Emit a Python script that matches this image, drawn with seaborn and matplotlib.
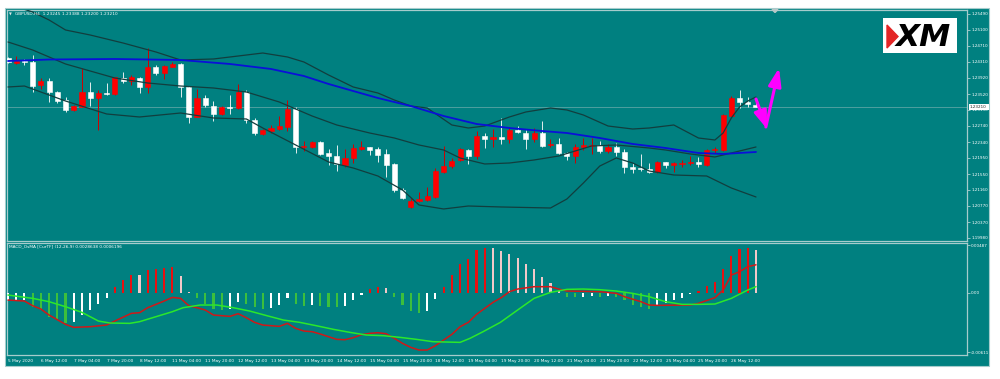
import matplotlib
matplotlib.use("Agg")
import matplotlib.pyplot as plt
from matplotlib.patches import Rectangle, Polygon
import numpy as np
import seaborn as sns

# ---------------- data (GBPUSD H4 candles) ----------------
opens = [1.24400,1.24292,1.24341,1.24316,1.23736,1.23849,1.23563,1.23374,1.23128,1.23209,
 1.23571,1.23431,1.23546,1.23522,1.23923,1.23841,1.23923,1.23689,1.24193,1.24031,
 1.24193,1.24252,1.23701,1.22963,1.23416,1.23234,1.23030,1.23194,1.23170,1.23578,
 1.22882,1.22538,1.22611,1.22653,1.22717,1.23153,1.22225,1.22210,1.22333,1.22063,
 1.21996,1.21775,1.21940,1.22169,1.22210,1.22161,1.22038,1.21792,1.21160,1.20734,
 1.20897,1.20914,1.20995,1.21595,1.21750,1.21898,1.22144,1.21996,1.22488,1.22407,
 1.22456,1.22415,1.22636,1.22570,1.22407,1.22555,1.22260,1.22292,1.22063,1.21996,
 1.22225,1.22242,1.22267,1.22119,1.22225,1.22087,1.21733,1.21694,1.21677,1.21610,
 1.21841,1.21775,1.21800,1.21832,1.21841,1.21775,1.22144,1.22144,1.22988,1.23431,
 1.23332,1.23245]
highs = [1.24420,1.24456,1.24375,1.24481,1.23908,1.23908,1.23603,1.23455,1.23251,1.24154,
 1.23809,1.23620,1.23785,1.23947,1.24070,1.23989,1.23947,1.24646,1.24235,1.24235,
 1.24316,1.24277,1.23726,1.23637,1.23497,1.23357,1.23226,1.23497,1.23760,1.23620,
 1.22924,1.22653,1.22759,1.22988,1.23374,1.23194,1.22373,1.22373,1.22365,1.22161,
 1.22267,1.22169,1.22284,1.22373,1.22225,1.22225,1.22161,1.21817,1.21202,1.20956,
 1.21118,1.21226,1.21694,1.22242,1.21940,1.22201,1.22169,1.22619,1.22570,1.22661,
 1.22939,1.22702,1.22734,1.22636,1.22678,1.22865,1.22407,1.22432,1.22102,1.22292,
 1.22432,1.22432,1.22373,1.22284,1.22309,1.22169,1.21817,1.22046,1.21817,1.21873,
 1.21856,1.21856,1.21898,1.21996,1.21964,1.22161,1.22225,1.23030,1.23480,1.23620,
 1.23455,1.23388]
lows = [1.24284,1.24260,1.24235,1.23578,1.23637,1.23332,1.23293,1.23071,1.23103,1.23194,
 1.23234,1.22636,1.23497,1.23497,1.23800,1.23743,1.23554,1.23539,1.23989,1.23883,
 1.24178,1.23455,1.22801,1.22948,1.23194,1.22857,1.23005,1.23022,1.23153,1.22801,
 1.22513,1.22513,1.22555,1.22636,1.22611,1.22078,1.22119,1.22186,1.22021,1.21775,
 1.21635,1.21733,1.21832,1.22144,1.22021,1.21856,1.21487,1.21118,1.20939,1.20710,
 1.20872,1.20897,1.20956,1.21571,1.21694,1.21873,1.21800,1.21915,1.22186,1.22225,
 1.22292,1.22324,1.22555,1.22161,1.22348,1.22225,1.22225,1.22038,1.21898,1.21817,
 1.22144,1.22038,1.22078,1.22078,1.22004,1.21586,1.21586,1.21635,1.21586,1.21571,
 1.21694,1.21610,1.21733,1.21775,1.21733,1.21758,1.22063,1.22127,1.22963,1.23170,
 1.23209,1.23200]
closes = [1.24301,1.24341,1.24316,1.23726,1.23849,1.23563,1.23349,1.23128,1.23226,1.23571,
 1.23431,1.23539,1.23514,1.23932,1.23841,1.23932,1.23689,1.24193,1.24031,1.24218,
 1.24252,1.23701,1.22963,1.23416,1.23251,1.23030,1.23194,1.23170,1.23578,1.22882,
 1.22555,1.22636,1.22693,1.22734,1.23153,1.22225,1.22250,1.22333,1.22046,1.21996,
 1.21792,1.21955,1.22201,1.22210,1.22144,1.22021,1.21775,1.21160,1.20971,1.20897,
 1.20939,1.21020,1.21627,1.21758,1.21881,1.22161,1.21996,1.22488,1.22407,1.22456,
 1.22415,1.22636,1.22579,1.22407,1.22555,1.22250,1.22292,1.22063,1.21996,1.22210,
 1.22267,1.22267,1.22119,1.22225,1.22087,1.21733,1.21677,1.21669,1.21610,1.21841,
 1.21775,1.21817,1.21832,1.21856,1.21800,1.22144,1.22169,1.23005,1.23431,1.23317,
 1.23276,1.23210]

# Bollinger bands and moving average (bar index, price)
upper_idx = [0,3,5,7,10,14,18,21,25,28,31,34,36,39,42,45,47,49,51,54,56,58,61,63,66,68,70,73,76,78,81,84,86,87,88,89,90,91]
upper_val = [1.25736,1.25539,1.25342,1.25096,1.24973,1.24776,1.24555,1.24358,1.24383,1.24456,
             1.24530,1.24432,1.24309,1.23989,1.23694,1.23546,1.23374,1.23226,1.23177,1.22759,
             1.22685,1.22734,1.22956,1.23079,1.23177,1.23128,1.23005,1.22734,1.22660,1.22685,
             1.22759,1.22439,1.22390,1.22562,1.22931,1.23202,1.23349,1.23448]
mid_idx = [0,3,7,13,17,21,25,29,33,37,40,44,47,50,53,55,58,61,64,67,69,71,74,78,80,83,86,88,91]
mid_val = [1.24801,1.24604,1.24260,1.23915,1.23792,1.23718,1.23669,1.23571,1.23325,1.22980,
           1.22759,1.22562,1.22439,1.22267,1.22144,1.21947,1.21800,1.21824,1.21898,1.21996,
           1.22119,1.22242,1.22267,1.22193,1.22144,1.22046,1.21972,1.22070,1.22218]
lower_idx = [0,2,7,12,16,21,25,29,31,35,39,42,45,48,50,53,56,60,66,68,70,72,74,76,78,81,85,88,91]
lower_val = [1.23694,1.23718,1.23349,1.23030,1.22956,1.23054,1.22931,1.22907,1.22685,1.22267,
             1.21849,1.21701,1.21504,1.21160,1.20791,1.20693,1.20766,1.20742,1.20717,1.20939,
             1.21332,1.21750,1.21947,1.21824,1.21627,1.21529,1.21504,1.21209,1.20988]
ma_idx = [0,5,13,21,27,32,36,39,42,45,49,53,57,61,65,68,72,76,80,84,87,91]
ma_val = [1.24333,1.24370,1.24383,1.24358,1.24260,1.24137,1.23964,1.23768,1.23595,1.23423,
          1.23226,1.22980,1.22784,1.22685,1.22611,1.22562,1.22439,1.22292,1.22193,1.22070,
          1.22046,1.22095]

# MACD_OsMA panel
hist = [-0.000718,-0.000718,-0.000718,-0.001436,-0.001744,-0.002462,-0.002668,-0.003078,-0.003027,-0.002257,
 -0.001744,-0.001129,-0.000513,0.000616,0.001334,0.001847,0.001796,0.002360,0.002462,0.002565,
 0.002616,0.001744,0.000051,-0.000513,-0.001129,-0.001642,-0.001744,-0.001642,-0.000923,-0.001129,
 -0.001436,-0.001642,-0.001590,-0.001231,-0.000513,-0.001129,-0.001334,-0.001231,-0.001334,-0.001436,
 -0.001467,-0.001365,-0.000718,-0.000205,0.000410,0.000616,0.000513,-0.000410,-0.001231,-0.001847,
 -0.002052,-0.001847,-0.000616,0.000616,0.001847,0.002975,0.003488,0.004412,0.004617,0.004586,
 0.004278,0.004001,0.003591,0.002975,0.002462,0.001642,0.001026,0.000205,-0.000410,-0.000482,
 -0.000410,-0.000339,-0.000410,-0.000308,-0.000410,-0.000718,-0.001231,-0.001436,-0.001672,-0.001334,
 -0.001098,-0.000749,-0.000513,-0.000174,0.000174,0.000718,0.001129,0.002462,0.003796,0.004484,
 0.004617,0.004381]
# histogram state: R rising positive, P falling positive, G falling negative, W rising negative
hist_state = list("WWW" + "GGGGG" + "WWWWW" + "RRR" + "P" + "RRRR" + "PP" + "GGGG" + "WW" + "GGG"
                  + "WWW" + "GG" + "W" + "GGG" + "WWW" + "RR" + "P" + "GGGG" + "WW" + "RRRRRR"
                  + "PPPPPPPPP" + "GG" + "WW" + "G" + "W" + "GGGGG" + "WWWWW" + "RRRRRRR" + "P")
macd_idx = [0,2,3,4,5,7,8,10,12,13,15,16,17,18,19,20,21,22,23,24,25,27,28,29,30,31,33,34,35,36,
            37,38,40,41,42,43,44,45,46,47,48,49,50,51,52,53,54,55,56,57,58,59,60,61,62,64,66,67,68,72,
            74,75,77,78,79,83,84,86,87,88,89,90,91]
macd_val = [-0.000752,-0.000855,-0.001334,-0.001676,-0.002291,-0.003249,-0.003557,-0.003488,-0.003317,-0.002907,
            -0.002120,-0.002052,-0.001539,-0.001197,-0.000855,-0.000479,-0.000581,-0.001334,-0.001539,-0.001778,
            -0.002291,-0.002428,-0.002155,-0.002565,-0.003044,-0.003317,-0.003454,-0.003146,-0.003659,-0.003933,
            -0.004001,-0.004241,-0.004788,-0.004822,-0.004617,-0.004309,-0.004172,-0.004104,-0.004207,-0.004685,
            -0.005198,-0.005609,-0.005882,-0.005882,-0.005438,-0.004856,-0.004275,-0.003488,-0.003044,-0.002223,
            -0.001607,-0.000992,-0.000513,0.000103,0.000376,0.000616,0.000616,0.000376,0.000171,0.000103,
            -0.000068,-0.000410,-0.000923,-0.001265,-0.001300,-0.001265,-0.001094,-0.000513,0.000274,0.001813,
            0.002155,0.002668,0.0028638]
signal_idx = [0,3,5,7,9,11,12.4,14.8,16,18,20,21.3,23.4,25.4,27.4,29.4,31.5,33.5,35.5,37.5,
              39.6,41.6,43.6,45.7,47.7,49.7,51.7,55,56.2,57.8,59.9,62,64,66,68,70,72,74,76,78,
              80,82,84,86,88,90,91]
signal_val = [-0.000239,-0.000581,-0.000923,-0.001436,-0.002018,-0.002907,-0.003112,-0.003146,-0.002975,-0.002462,
              -0.001949,-0.001539,-0.001265,-0.001265,-0.001539,-0.001881,-0.002360,-0.002804,-0.003044,-0.003386,
              -0.003762,-0.004070,-0.004343,-0.004412,-0.004583,-0.004788,-0.005027,-0.005096,-0.004685,-0.004001,
              -0.003044,-0.001778,-0.000581,0.000034,0.000342,0.000376,0.000308,0.000171,-0.000068,-0.000410,
              -0.000923,-0.001197,-0.001197,-0.001163,-0.000581,0.000274,0.0006196]

price_ticks = [1.25490,1.25100,1.24710,1.24310,1.23920,1.23520,1.23130,1.22740,1.22340,
               1.21950,1.21550,1.21160,1.20770,1.20370,1.19980]
macd_ticks = [0.00487, 0.0, -0.00611]
macd_tick_labels = ["0.00487", "0.00", "-0.00611"]
time_labels = ["5 May 2020","6 May 12:00","7 May 04:00","7 May 20:00","8 May 12:00","11 May 04:00",
               "11 May 20:00","12 May 12:00","13 May 04:00","13 May 20:00","14 May 12:00","15 May 04:00",
               "15 May 20:00","18 May 12:00","19 May 04:00","19 May 20:00","20 May 12:00","21 May 04:00",
               "21 May 20:00","22 May 12:00","25 May 04:00","25 May 20:00","26 May 12:00"]
# forecast arrows (bar index, price)
arrow_down = [(91.0, 1.23398), (92.35, 1.22660)]
arrow_up = [(92.2, 1.22710), (93.8, 1.24161)]

# ---------------- drawing ----------------
sns.set_theme(style="white")
plt.rcParams['font.family'] = ['DejaVu Sans']

W, H = 1000, 379
fig = plt.figure(figsize=(W / 100, H / 100), dpi=100)
fig.patch.set_facecolor('white')

def frect(l, t, r, b):
    return [l / W, 1 - b / H, (r - l) / W, (b - t) / H]

TEAL = '#008080'
EDGE = '#a6cccc'
TXT = '#ffffff'

bg = fig.add_axes([0, 0, 1, 1], zorder=0)
bg.set_xlim(0, W); bg.set_ylim(H, 0); bg.axis('off')
bg.add_patch(Rectangle((5, 8), 984, 358, facecolor=TEAL, edgecolor=EDGE, lw=0.8))

XMIN, XMAX = -0.12, 116.67
ax = fig.add_axes(frect(7, 10, 967, 241), zorder=2)
mx = fig.add_axes(frect(7, 243, 967, 355), zorder=2)
for a in (ax, mx):
    a.set_facecolor(TEAL)
    a.set_xlim(XMIN, XMAX)
    for s in a.spines.values():
        s.set_color(EDGE)
        s.set_linewidth(0.9)
ax.set_ylim(1.19905, 1.25588)
mx.set_ylim(-0.006392, 0.005099)

# candles
idx = np.arange(len(opens))
o = np.array(opens); c = np.array(closes); hi = np.array(highs); lo = np.array(lows)
up = c >= o
body_col = np.where(up, '#ff0000', '#ffffff')
wick_col = np.where(up, '#d00000', '#e4eeee')
ax.axhline(closes[-1], color='#5aa4a4', lw=0.6, zorder=1)
ax.vlines(idx, lo, hi, colors=wick_col, lw=0.7, zorder=3)
ax.bar(idx, np.abs(c - o), bottom=np.minimum(o, c), width=0.62, color=body_col,
       edgecolor=body_col, linewidth=0.4, zorder=3.5)

band_col = '#123e3e'
for xs, ys in ((upper_idx, upper_val), (mid_idx, mid_val), (lower_idx, lower_val)):
    sns.lineplot(x=xs, y=ys, ax=ax, color=band_col, linewidth=0.9, zorder=4)
sns.lineplot(x=ma_idx, y=ma_val, ax=ax, color='#0a10d8', linewidth=1.3, zorder=4.5)

for (p0, p1) in (arrow_down, arrow_up):
    ax.annotate('', xy=p1, xytext=p0, xycoords='data', textcoords='data',
                arrowprops=dict(arrowstyle='-|>,head_length=0.9,head_width=0.32',
                                color='#ff00ff', lw=2.2, shrinkA=0, shrinkB=0),
                zorder=6)

# MACD panel
state_col = {'R': '#e81010', 'P': '#f2c8c8', 'G': '#3cbf3c', 'W': '#ffffff'}
mx.bar(idx, hist, width=0.26, color=[state_col[s] for s in hist_state],
       edgecolor='none', linewidth=0, zorder=3)
sns.lineplot(x=macd_idx, y=macd_val, ax=mx, color='#d01818', linewidth=1.1, zorder=4)
sns.lineplot(x=signal_idx, y=signal_val, ax=mx, color='#2be82b', linewidth=1.1, zorder=4)

# axes ticks
ax.set_xticks([])
ax.yaxis.tick_right()
ax.set_yticks(price_ticks)
ax.set_yticklabels([f'{v:.5f}' for v in price_ticks])
ax.tick_params(axis='y', labelcolor=TXT, color='#c8e0e0', labelsize=3.0, length=2, width=0.5, pad=1)
mx.yaxis.tick_right()
mx.set_yticks(macd_ticks)
mx.set_yticklabels(macd_tick_labels)
mx.tick_params(axis='y', labelcolor=TXT, color='#c8e0e0', labelsize=3.0, length=2, width=0.5, pad=1)
mx.set_xticks(np.arange(0, 4 * len(time_labels), 4))
mx.set_xticklabels(time_labels, ha='left')
mx.tick_params(axis='x', labelcolor=TXT, color='#c8e0e0', labelsize=3.1, length=2, width=0.5, pad=0.8)
for a in (ax, mx):
    a.set_xlabel(''); a.set_ylabel('')

# overlay: texts, logo, current price box
ov = fig.add_axes([0, 0, 1, 1], zorder=5)
ov.set_xlim(0, W); ov.set_ylim(H, 0); ov.axis('off'); ov.patch.set_alpha(0)
ov.text(9, 14.2, '\u25bc', fontsize=2.6, color='#dde8e8', va='center', ha='left')
ov.text(15, 14.2, 'GBPUSD,H4  1.23245 1.23388 1.23200 1.23210', fontsize=3.1,
        color=TXT, va='center', ha='left')
ov.text(9, 246.6, 'MACD_OsMA [CurTF] (12,26,9) 0.0028638 0.0006196', fontsize=3.1,
        color=TXT, va='center', ha='left')
ov.add_patch(Polygon([(772, 9.5), (778, 9.5), (775, 12.5)], closed=True, color='#b8c8c8'))
# current price label
ov.add_patch(Rectangle((969, 104.2), 19.5, 5.4, facecolor='white', edgecolor='none'))
ov.text(970, 106.9, '1.23210', fontsize=3.0, color='#202020', va='center', ha='left')
# XM logo
ov.add_patch(Rectangle((883, 18), 74, 35, facecolor='white', edgecolor='none'))
ov.add_patch(Polygon([(887, 25), (898, 36.5), (887, 48)], closed=True, color='#e32626'))
ov.text(923, 37, 'XM', fontsize=22.5, fontweight='heavy', style='italic',
        color='black', ha='center', va='center')

fig.savefig('out.png', dpi=100, facecolor='white')
